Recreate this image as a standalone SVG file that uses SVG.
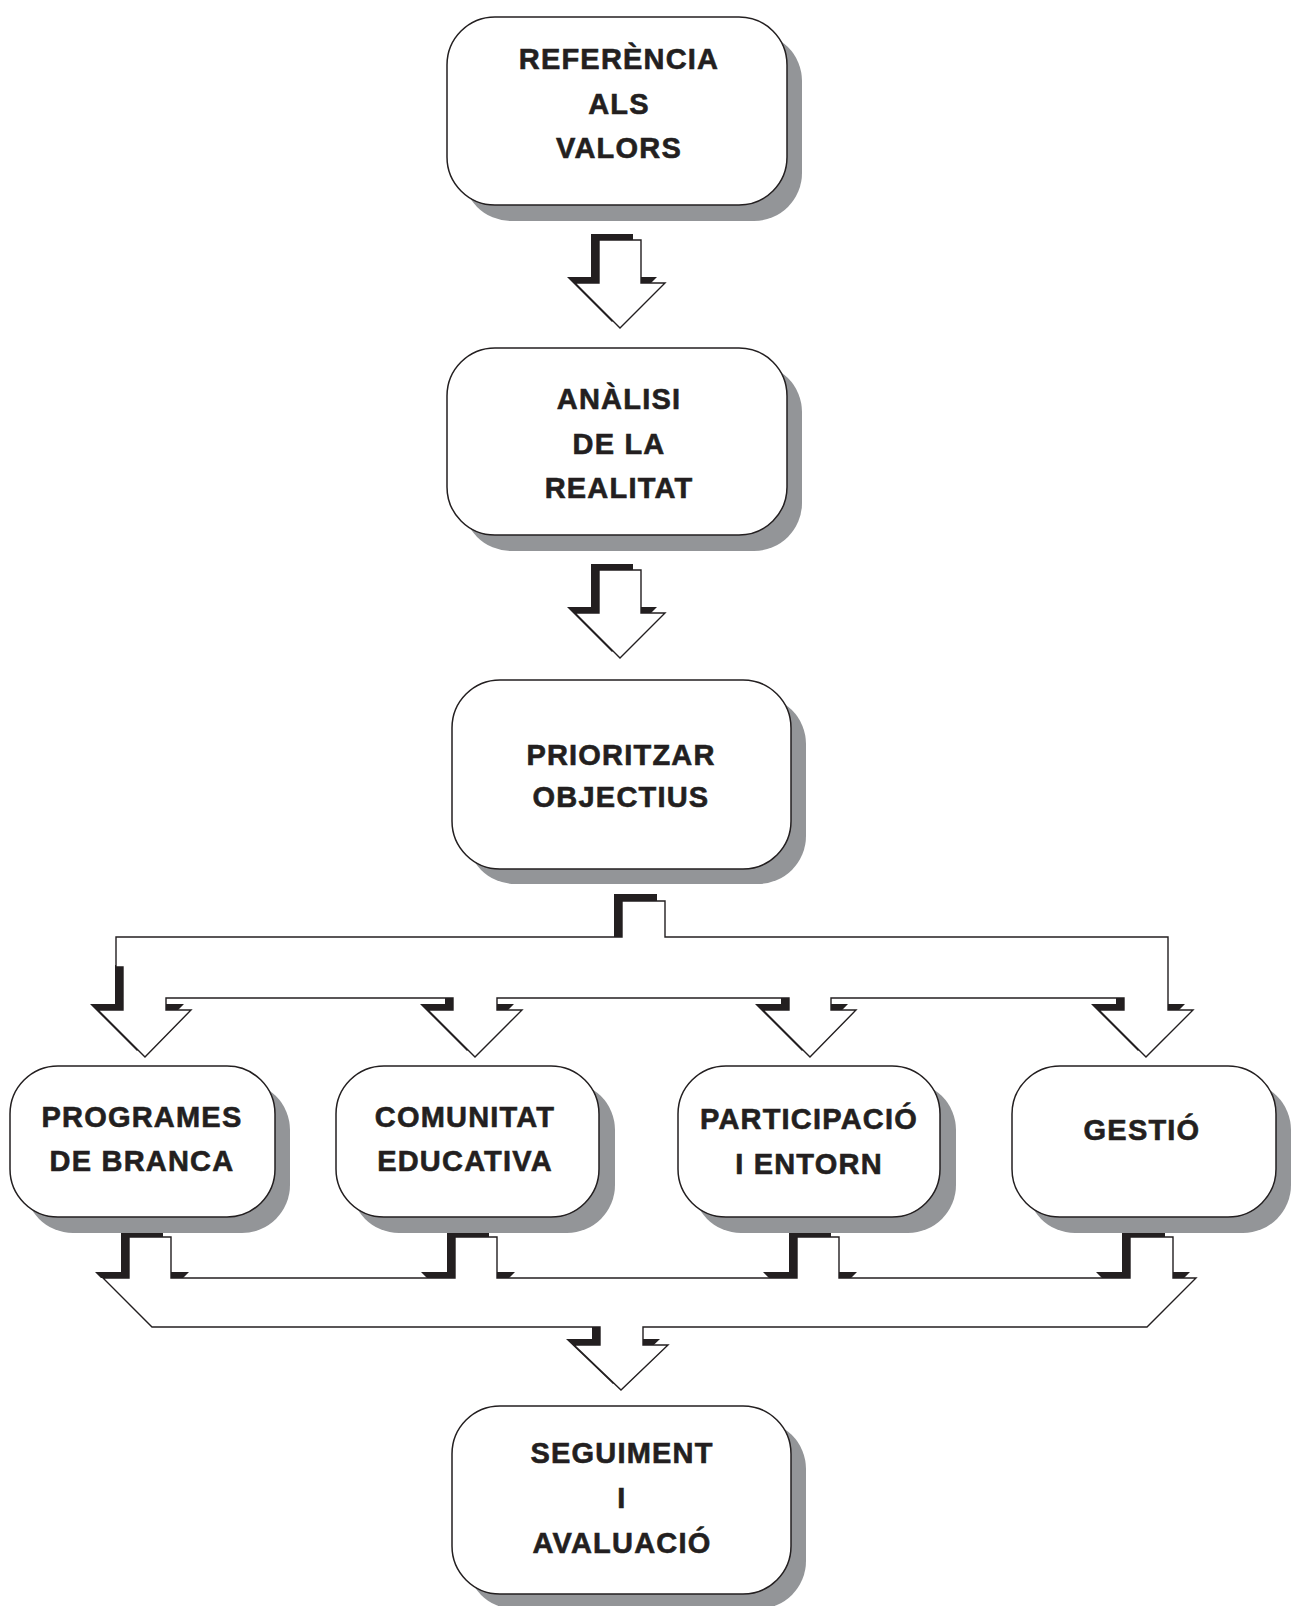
<svg xmlns="http://www.w3.org/2000/svg" width="1295" height="1606" viewBox="0 0 1295 1606">
<style>
.box{fill:#fff;stroke:#231f20;stroke-width:1.5}
.sh{fill:#939598}
.t{font-family:"Liberation Sans",Arial,sans-serif;font-weight:bold;font-size:29px;letter-spacing:1.2px;fill:#231f20;stroke:#231f20;stroke-width:0.6;text-anchor:middle}
.ash{fill:#231f20}
.arr{fill:#fff;stroke:#231f20;stroke-width:1.4;stroke-linejoin:miter}
</style>
<rect width="1295" height="1606" fill="#fff"/>

<g id="connectors">
  <!-- arrow 1 -->
  <polygon class="ash" points="591,234 633,234 633,277 657,277 612,322 567,277 591,277"/>
  <polygon class="arr" points="599,240 641,240 641,283 665,283 620,328 575,283 599,283"/>
  <!-- arrow 2 -->
  <polygon class="ash" points="591,564 633,564 633,607 657,607 612,652 567,607 591,607"/>
  <polygon class="arr" points="599,570 641,570 641,613 665,613 620,658 575,613 599,613"/>
  <!-- branch shadows -->
  <polygon class="ash" points="614,894 657,894 657,937 614,937"/>
  <polygon class="ash" points="115,965 158,965 158,1004 184,1004 137,1051 90,1004 115,1004"/>
  <polygon class="ash" points="445,998 489,998 489,1004 514,1004 467,1051 420,1004 445,1004"/>
  <polygon class="ash" points="781,998 823,998 823,1004 848,1004 802,1051 755,1004 781,1004"/>
  <polygon class="ash" points="1116,998 1160,998 1160,1004 1185,1004 1138,1051 1091,1004 1116,1004"/>
  <!-- branch shape -->
  <polygon class="arr" points="622,901 665,901 665,937 1168,937 1168,1010 1193,1010 1146,1057 1099,1010 1124,1010 1124,998 831,998 831,1010 856,1010 810,1057 763,1010 789,1010 789,998 497,998 497,1010 522,1010 475,1057 428,1010 453,1010 453,998 166,998 166,1010 191,1010 145,1057 98,1010 123,1010 123,967 116,967 116,937 622,937"/>
  <!-- merge shadows -->
  <polygon class="ash" points="121,1231 163,1231 163,1272 189,1272 183,1278 101,1278 95,1272 121,1272"/>
  <polygon class="ash" points="447,1231 489,1231 489,1272 515,1272 509,1278 427,1278 421,1272 447,1272"/>
  <polygon class="ash" points="789,1231 831,1231 831,1272 857,1272 851,1278 769,1278 763,1272 789,1272"/>
  <polygon class="ash" points="1122,1231 1165,1231 1165,1272 1190,1272 1184,1278 1102,1278 1096,1272 1122,1272"/>
  <polygon class="ash" points="592,1327 635,1327 635,1339 660,1339 613,1384 566,1339 592,1339"/>
  <!-- merge shape -->
  <polygon class="arr" points="129,1237 171,1237 171,1278 455,1278 455,1237 497,1237 497,1278 797,1278 797,1237 839,1237 839,1278 1130,1278 1130,1237 1173,1237 1173,1278 1196,1278 1147,1327 643,1327 643,1345 668,1345 621,1390 574,1345 600,1345 600,1327 152,1327 103,1278 129,1278"/>
</g>

<g id="n1">
  <rect class="sh" x="463" y="33" width="339" height="188" rx="48"/>
  <rect class="box" x="447" y="17" width="340" height="188" rx="48"/>
  <text class="t" x="619" y="69">REFERÈNCIA</text>
  <text class="t" x="619" y="114">ALS</text>
  <text class="t" x="619" y="158">VALORS</text>
</g>
<g id="n2">
  <rect class="sh" x="463" y="364" width="339" height="187" rx="48"/>
  <rect class="box" x="447" y="348" width="340" height="187" rx="48"/>
  <text class="t" x="619" y="409">ANÀLISI</text>
  <text class="t" x="619" y="454">DE LA</text>
  <text class="t" x="619" y="498">REALITAT</text>
</g>
<g id="n3">
  <rect class="sh" x="467" y="696" width="339" height="188" rx="48"/>
  <rect class="box" x="452" y="680" width="339" height="189" rx="48"/>
  <text class="t" x="621" y="765">PRIORITZAR</text>
  <text class="t" x="621" y="807">OBJECTIUS</text>
</g>
<g id="n4">
  <rect class="sh" x="25" y="1082" width="265" height="151" rx="48"/>
  <rect class="box" x="10" y="1066" width="265" height="151" rx="48"/>
  <text class="t" x="142" y="1127">PROGRAMES</text>
  <text class="t" x="142" y="1171">DE BRANCA</text>
</g>
<g id="n5">
  <rect class="sh" x="351" y="1082" width="264" height="151" rx="48"/>
  <rect class="box" x="336" y="1066" width="263" height="151" rx="48"/>
  <text class="t" x="465" y="1127">COMUNITAT</text>
  <text class="t" x="465" y="1171">EDUCATIVA</text>
</g>
<g id="n6">
  <rect class="sh" x="693" y="1082" width="263" height="151" rx="48"/>
  <rect class="box" x="678" y="1066" width="262" height="151" rx="48"/>
  <text class="t" x="809" y="1129">PARTICIPACIÓ</text>
  <text class="t" x="809" y="1174">I ENTORN</text>
</g>
<g id="n7">
  <rect class="sh" x="1027" y="1082" width="264" height="151" rx="48"/>
  <rect class="box" x="1012" y="1066" width="264" height="151" rx="48"/>
  <text class="t" x="1142" y="1140">GESTIÓ</text>
</g>
<g id="n8">
  <rect class="sh" x="467" y="1421" width="339" height="188" rx="48"/>
  <rect class="box" x="452" y="1406" width="339" height="188" rx="48"/>
  <text class="t" x="622" y="1463">SEGUIMENT</text>
  <text class="t" x="622" y="1508">I</text>
  <text class="t" x="622" y="1553">AVALUACIÓ</text>
</g>
</svg>
